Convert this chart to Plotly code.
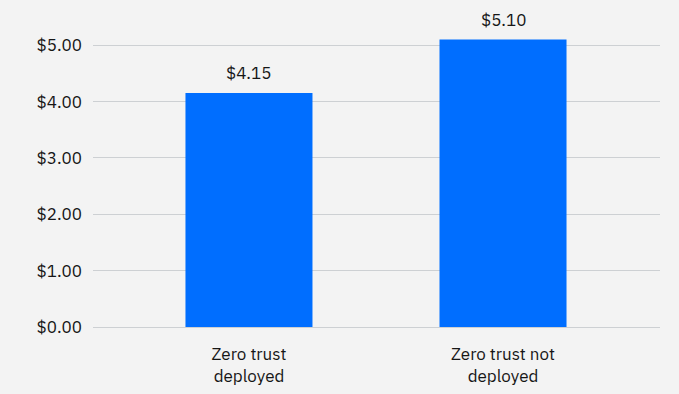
import plotly.graph_objects as go

categories = ["Zero trust<br>deployed", "Zero trust not<br>deployed"]
values = [4.15, 5.10]
value_labels = ["$4.15", "$5.10"]
tick_vals = [0, 1, 2, 3, 4, 5]
tick_text = ["$0.00", "$1.00", "$2.00", "$3.00", "$4.00", "$5.00"]

font_family = "IBM Plex Sans, Noto Sans, Open Sans, sans-serif"
text_color = "#161616"
positions = list(range(len(categories)))

fig = go.Figure(
    go.Bar(
        x=positions,
        y=values,
        width=0.5,
        marker=dict(color="#006EFF", line=dict(width=0)),
        hoverinfo="skip",
    )
)

for xi, v, lab in zip(positions, values, value_labels):
    fig.add_annotation(
        x=xi, y=v, text=lab, showarrow=False,
        yanchor="bottom", yshift=7,
        font=dict(family=font_family, size=17, color=text_color),
    )

fig.update_layout(
    width=679,
    height=394,
    margin=dict(l=93, r=19, t=17, b=67),
    paper_bgcolor="#F3F3F3",
    plot_bgcolor="#F3F3F3",
    showlegend=False,
    font=dict(family=font_family, size=17, color=text_color),
    xaxis=dict(
        range=[-0.614, 1.618],
        tickvals=positions,
        ticktext=categories,
        showgrid=False,
        zeroline=False,
        showline=False,
        ticks="",
        ticklabelstandoff=15,
        automargin=False,
        tickfont=dict(size=17, color=text_color),
    ),
    yaxis=dict(
        range=[0, 5.5],
        tickvals=tick_vals,
        ticktext=tick_text,
        showgrid=True,
        gridcolor="#CDD0D3",
        gridwidth=1,
        zeroline=True,
        zerolinecolor="#CDD0D3",
        zerolinewidth=1,
        showline=False,
        ticks="",
        ticklabelstandoff=10,
        automargin=False,
        tickfont=dict(size=17, color=text_color),
    ),
)

fig.write_html(
    "out.html",
    config={"displayModeBar": False},
    post_script="document.body.style.margin='0';document.body.style.background='#F3F3F3';",
)
